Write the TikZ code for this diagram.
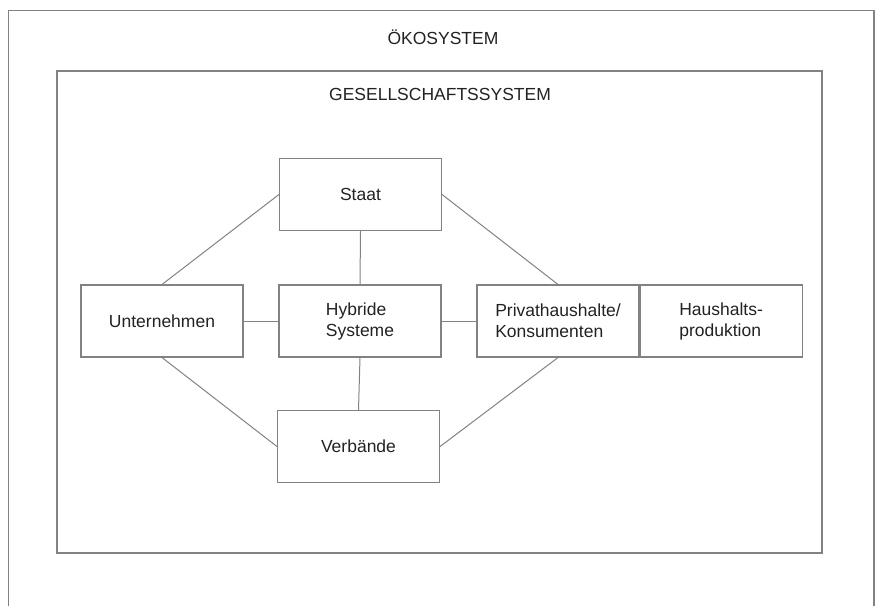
\documentclass[tikz,border=0pt]{standalone}
\usepackage{fontspec}
\setmainfont{Liberation Sans}
\usepackage{xcolor}
\usepackage{tikz}
\usetikzlibrary{positioning}

\definecolor{linegray}{RGB}{128,130,132}
\definecolor{textgray}{RGB}{34,34,34}

\begin{document}
\begin{tikzpicture}[
x=1pt, y=-1pt,
every node/.style={font=\fontsize{17.5}{21}\selectfont, text=textgray},
frame/.style={draw=linegray, line width=1.3pt},
sysbox/.style={draw=linegray, line width=1.1pt, minimum width=162pt, minimum height=72pt, align=left, inner sep=0pt},
link/.style={draw=linegray, line width=1pt}
]
\useasboundingbox (0,0) rectangle (876,606);

% frames
\coordinate (oko sw) at (8.5,606);
\coordinate (oko ne) at (874,10.5);
\draw[frame] (oko sw) |- (oko ne) -- (oko ne |- oko sw);
\draw[frame] (57,71) rectangle (822,553);

\node (oko) at (443,37) {ÖKOSYSTEM};
\node (gesellschaft) at (440,94) {GESELLSCHAFTSSYSTEM};

% boxes
\node [sysbox] (staat) at (360.5,194.5) {Staat};
\node [sysbox] (unternehmen) at (162,321) {Unternehmen};
\node [sysbox] (hybrid) at (360,321) {Hybride\\Systeme};
\node [sysbox] (privat) at (558,321) {Privathaushalte/\\Konsumenten};
\node [sysbox, right=0pt of privat] (haushalt) {Haushalts-\\produktion};
\node [sysbox] (verbaende) at (358.5,446.5) {Verbände};

% connections
\draw[link] (staat.west) -- (unternehmen.north);
\draw[link] (staat.east) -- (privat.north);
\draw[link] (staat.south) -- (hybrid.north);
\draw[link] (unternehmen.east) -- (hybrid.west);
\draw[link] (hybrid.east) -- (privat.west);
\draw[link] (hybrid.south) -- (verbaende.north);
\draw[link] (unternehmen.south) -- (verbaende.west);
\draw[link] (verbaende.east) -- (privat.south);
\end{tikzpicture}
\end{document}
